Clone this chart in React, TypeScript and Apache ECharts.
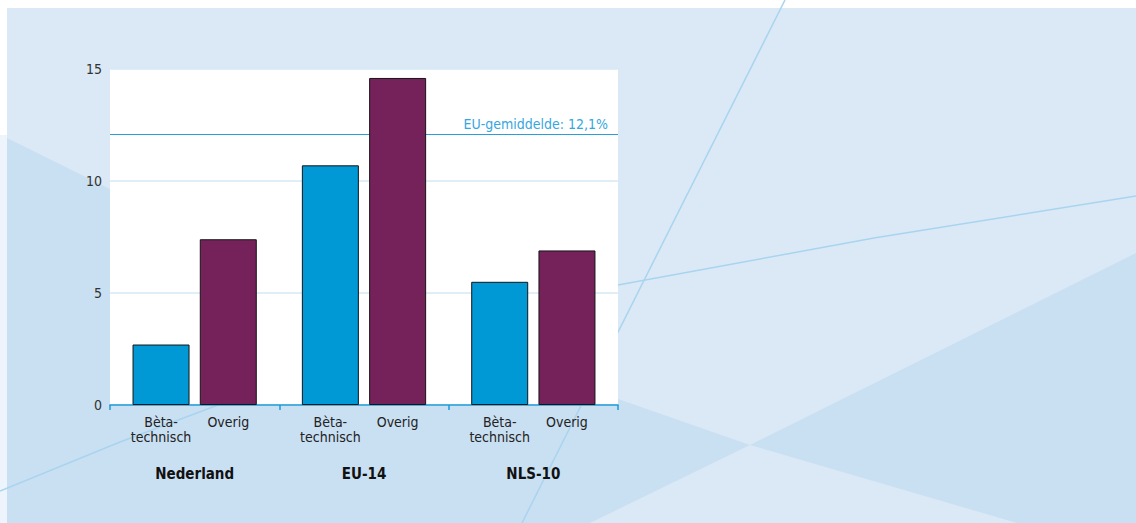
import React, { useEffect, useRef } from "react";
import * as echarts from "echarts";

const categories = ["Nederland", "EU-14", "NLS-10"];
const seriesNames = ["Bèta-technisch", "Overig"];
const seriesLabels = ["Bèta-\ntechnisch", "Overig"];
const betaValues = [2.7, 10.7, 5.5];
const overigValues = [7.4, 14.6, 6.9];
const euAverage = 12.1;
const yMin = 0;
const yMax = 15;
const yInterval = 5;

const FONT = "'Liberation Sans Narrow', 'DejaVu Sans Condensed', 'Noto Sans', sans-serif";
const LIGHT = "#dbe9f6";
const DARK = "#c9dff2";
const LINE = "#a9d4ef";

export default function App() {
  const ref = useRef<HTMLDivElement>(null);

  useEffect(() => {
    if (!ref.current) return;
    const chart = echarts.init(ref.current, null, { renderer: "svg" });

    const seriesValues = [betaValues, overigValues];
    const colors = ["#0099d5", "#75215a"];

    const option: any = {
      animation: false,
      backgroundColor: "#ffffff",
      textStyle: { fontFamily: FONT },
      graphic: [
        { type: "rect", z: -10, shape: { x: 7, y: 8, width: 1129, height: 515 }, style: { fill: LIGHT } },
        { type: "rect", z: -10, shape: { x: 0, y: 135, width: 7, height: 388 }, style: { fill: "#edf4fb" } },
        {
          type: "polygon", z: -9,
          shape: { points: [[7, 138], [110, 189], [618, 399], [750, 445], [590, 523], [7, 523]] },
          style: { fill: DARK },
        },
        {
          type: "polygon", z: -9,
          shape: { points: [[750, 445], [1136, 253], [1136, 523], [1017, 523]] },
          style: { fill: DARK },
        },
        {
          type: "polyline", z: -8,
          shape: { points: [[0, 491], [120, 442], [218, 405], [618, 285], [874, 238], [1136, 196]] },
          style: { stroke: LINE, lineWidth: 1.5, fill: "none" },
        },
        {
          type: "line", z: -8,
          shape: { x1: 785, y1: 0, x2: 522, y2: 523 },
          style: { stroke: LINE, lineWidth: 1.5 },
        },
      ],
      grid: {
        left: 110,
        right: 518,
        top: 69,
        bottom: 118,
        show: true,
        backgroundColor: "#ffffff",
        borderWidth: 0,
        z: 0,
      },
      xAxis: {
        type: "category",
        data: categories,
        axisLine: { lineStyle: { color: "#1d9bd7", width: 1.5 } },
        axisTick: { show: true, length: 5, lineStyle: { color: "#1d9bd7", width: 1.5 } },
        axisLabel: {
          margin: 61,
          fontSize: 15,
          fontWeight: "bold",
          color: "#111111",
          fontFamily: FONT,
        },
        splitLine: { show: false },
      },
      yAxis: {
        type: "value",
        min: yMin,
        max: yMax,
        interval: yInterval,
        axisLine: { show: false },
        axisTick: { show: false },
        axisLabel: { margin: 8, fontSize: 14, color: "#333333", fontFamily: FONT },
        splitLine: { lineStyle: { color: "#d6e8f5", width: 1.5 } },
      },
      series: seriesNames.map((name, i) => ({
        name,
        type: "bar",
        data: seriesValues[i],
        barWidth: 57,
        barGap: "18%",
        z: 3,
        itemStyle: { color: colors[i], borderColor: "#151515", borderWidth: 1 },
        label: {
          show: true,
          position: "bottom",
          distance: 9,
          formatter: () => seriesLabels[i],
          color: "#222222",
          fontSize: 14,
          lineHeight: 15,
          fontFamily: FONT,
        },
        markLine:
          i === 0
            ? {
                silent: true,
                z: 1,
                symbol: "none",
                lineStyle: { color: "#2a9ed8", width: 1, type: "solid" },
                label: {
                  position: "insideEndTop",
                  formatter: `EU-gemiddelde: ${String(euAverage).replace(".", ",")}%`,
                  color: "#35a7de",
                  fontSize: 14,
                  fontFamily: FONT,
                  distance: [10, 3],
                },
                data: [{ yAxis: euAverage }],
              }
            : undefined,
      })),
    };

    chart.setOption(option);
    return () => chart.dispose();
  }, []);

  return (
    <div
      ref={ref}
      style={{ position: "absolute", left: 0, top: 0, width: 1136, height: 523 }}
    />
  );
}
